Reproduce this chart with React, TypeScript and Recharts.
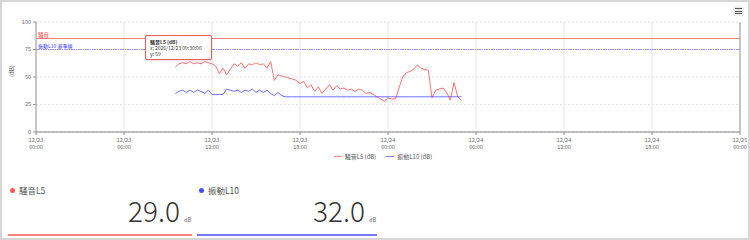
import React from "react";
import { LineChart, Line, XAxis, YAxis, CartesianGrid, ReferenceLine, Legend } from "recharts";

// 15分間隔, 12/23 09:30 から
const startHour = 9.5;
const stepHour = 0.25;

const noiseL5 = [
  59, 62, 63, 62, 64, 62, 63, 62, 64, 63, 62, 60, 53, 58, 52, 57, 62, 60, 63, 58,
  62, 61, 63, 61, 62, 58, 64, 47, 52, 51, 50, 49, 48, 47, 44, 46, 40, 43, 37, 41,
  35, 39, 43, 38, 42, 39, 40, 38, 39, 37, 39, 38, 35, 36, 34, 32, 30, 28, 31, 30,
  30, 40, 50, 54, 55, 57, 61, 58, 57, 56, 31, 38, 39, 40, 36, 29, 45, 32, 29,
];
const vibL10 = [
  35, 37, 38, 36, 38, 36, 38, 37, 35, 38, 34, 34, 34, 34, 39, 38, 37, 38, 36, 38,
  37, 39, 36, 38, 36, 38, 35, 33, 36, 33, 32, 32, 32, 32, 32, 32, 32, 32, 32, 32,
  32, 32, 32, 32, 32, 32, 32, 32, 32, 32, 32, 32, 32, 32, 32, 32, 32, 32, 32, 32,
  32, 32, 32, 32, 32, 32, 32, 32, 32, 32, 32, 32, 32, 32, 32, 32, 32, 32, 32,
];

const xTicks = [0, 6, 12, 18, 24, 30, 36, 42, 48];
const xTickDates = ["12/23", "12/23", "12/23", "12/23", "12/24", "12/24", "12/24", "12/24", "12/25"];
const xTickTimes = ["00:00", "06:00", "12:00", "18:00", "00:00", "06:00", "12:00", "18:00", "00:00"];
const yTicks = [0, 25, 50, 75, 100];

const noiseLimit = 85;
const vibLimit = 75;
const latestNoise = "29.0";
const latestVib = "32.0";

const RED = "#ff5a5a";
const BLUE = "#4a4aff";
const FONT = '"Noto Sans CJK JP", "Noto Sans", sans-serif';

const data = noiseL5.map((v, i) => ({
  t: startHour + i * stepHour,
  noise: v,
  vib: vibL10[i],
}));

function XTick(props: any) {
  const { x, y, payload } = props;
  const idx = xTicks.indexOf(payload.value);
  return (
    <g transform={`translate(${x},${y})`}>
      <text x={0} y={5} textAnchor="middle" fontSize={5.5} fill="#666">
        {xTickDates[idx]}
      </text>
      <text x={0} y={11.5} textAnchor="middle" fontSize={5.5} fill="#666">
        {xTickTimes[idx]}
      </text>
    </g>
  );
}

function LegendContent() {
  const items = [
    { name: "騒音L5 (dB)", color: RED },
    { name: "振動L10 (dB)", color: BLUE },
  ];
  return (
    <div style={{ display: "flex", justifyContent: "center", gap: 10, fontSize: 6, color: "#555", paddingLeft: 26 }}>
      {items.map((it) => (
        <div key={it.name} style={{ display: "flex", alignItems: "center", gap: 3 }}>
          <span style={{ display: "inline-block", width: 8, height: 1.5, background: it.color, opacity: 0.7 }} />
          <span>{it.name}</span>
        </div>
      ))}
    </div>
  );
}

function Card(props: { label: string; color: string; value: string; left: number; width: number; valueRight: number }) {
  const { label, color, value, left, width, valueRight } = props;
  return (
    <div style={{ position: "absolute", left, top: 178, width, height: 58 }}>
      <div style={{ position: "absolute", left: 2, top: 4, display: "flex", alignItems: "center", fontSize: 8.5, color: "#555" }}>
        <span style={{ width: 5, height: 5, borderRadius: 3, background: color, display: "inline-block", marginRight: 4 }} />
        {label}
      </div>
      <div
        style={{
          position: "absolute",
          right: valueRight,
          top: 12,
          fontSize: 28,
          fontWeight: 300,
          color: "#333",
          lineHeight: "36px",
          fontFamily: FONT,
        }}
      >
        {value}
      </div>
      <div style={{ position: "absolute", right: 0, top: 36, fontSize: 5.5, color: "#666", width: 8 }}>dB</div>
      <div style={{ position: "absolute", left: 0, right: 0, top: 54, height: 2, background: color, opacity: 0.75 }} />
    </div>
  );
}

export default function App() {
  return (
    <div
      style={{
        position: "absolute",
        left: 0,
        top: 0,
        width: 750,
        height: 240,
        boxSizing: "border-box",
        border: "2px solid #d6d6d6",
        background: "#fff",
        fontFamily: FONT,
        overflow: "hidden",
      }}
    >
      <div style={{ position: "absolute", left: -2, top: -2 }}>
        <LineChart width={750} height={170} data={data} margin={{ top: 22, right: 10, bottom: 0, left: 0 }}>
          <CartesianGrid vertical={false} stroke="#e2e2e2" strokeDasharray="2 2" />
          <CartesianGrid horizontal={false} stroke="#e6e6e6" />
          <XAxis
            type="number"
            dataKey="t"
            domain={[0, 48]}
            ticks={xTicks}
            interval={0}
            height={20}
            stroke="#888"
            tickLine={{ stroke: "#888" }}
            tickSize={3}
            tick={<XTick />}
          />
          <YAxis
            domain={[0, 100]}
            ticks={yTicks}
            width={36}
            stroke="#999"
            tickSize={3}
            tick={{ fontSize: 5.5, fill: "#666" }}
            label={{ value: "(dB)", angle: -90, position: "insideLeft", offset: 12, fontSize: 6, fill: "#666" }}
          />
          <ReferenceLine x={48} stroke="#999" />
          <ReferenceLine
            y={noiseLimit}
            stroke="#f08080"
            label={{ value: "騒音", position: "insideBottomLeft", fontSize: 5.5, fill: "#ff3333", offset: 2 }}
          />
          <ReferenceLine
            y={vibLimit}
            stroke="#9a9aff"
            strokeWidth={1}
            strokeDasharray="4 1 1 1"
            label={{ value: "振動L10 基準値", position: "insideBottomLeft", fontSize: 5, fill: "#3333ff", offset: 2 }}
          />
          <Line
            dataKey="noise"
            stroke={RED}
            strokeOpacity={0.85}
            strokeWidth={1}
            dot={false}
            type="linear"
            isAnimationActive={false}
          />
          <Line
            dataKey="vib"
            stroke={BLUE}
            strokeOpacity={0.8}
            strokeWidth={1}
            dot={false}
            type="linear"
            isAnimationActive={false}
          />
          <Legend verticalAlign="bottom" height={18} content={<LegendContent />} />
        </LineChart>
      </div>

      {/* tooltip */}
      <div
        style={{
          position: "absolute",
          left: 143,
          top: 33,
          width: 67,
          height: 25,
          border: "1px solid #f05a5a",
          borderRadius: 2,
          background: "#fff",
          boxShadow: "0 1px 2px rgba(0,0,0,0.12)",
          fontSize: 5,
          color: "#333",
          lineHeight: "5.8px",
          padding: "3px 4px",
          boxSizing: "border-box",
        }}
      >
        <div style={{ fontWeight: 600 }}>騒音L5 (dB)</div>
        <div>x: 2026/12/23 09:30:00</div>
        <div>y: 59</div>
      </div>

      {/* menu */}
      <div
        style={{
          position: "absolute",
          left: 731,
          top: 4,
          width: 11,
          height: 10,
          background: "#eee",
          borderRadius: 2,
          display: "flex",
          flexDirection: "column",
          justifyContent: "center",
          alignItems: "center",
          gap: 1.5,
        }}
      >
        {[0, 1, 2].map((k) => (
          <span key={k} style={{ width: 7, height: 1, background: "#555", display: "block" }} />
        ))}
      </div>

      <Card label="騒音L5" color={RED} value={latestNoise} left={6} width={184} valueRight={12} />
      <Card label="振動L10" color={BLUE} value={latestVib} left={195} width={180} valueRight={12} />
    </div>
  );
}
